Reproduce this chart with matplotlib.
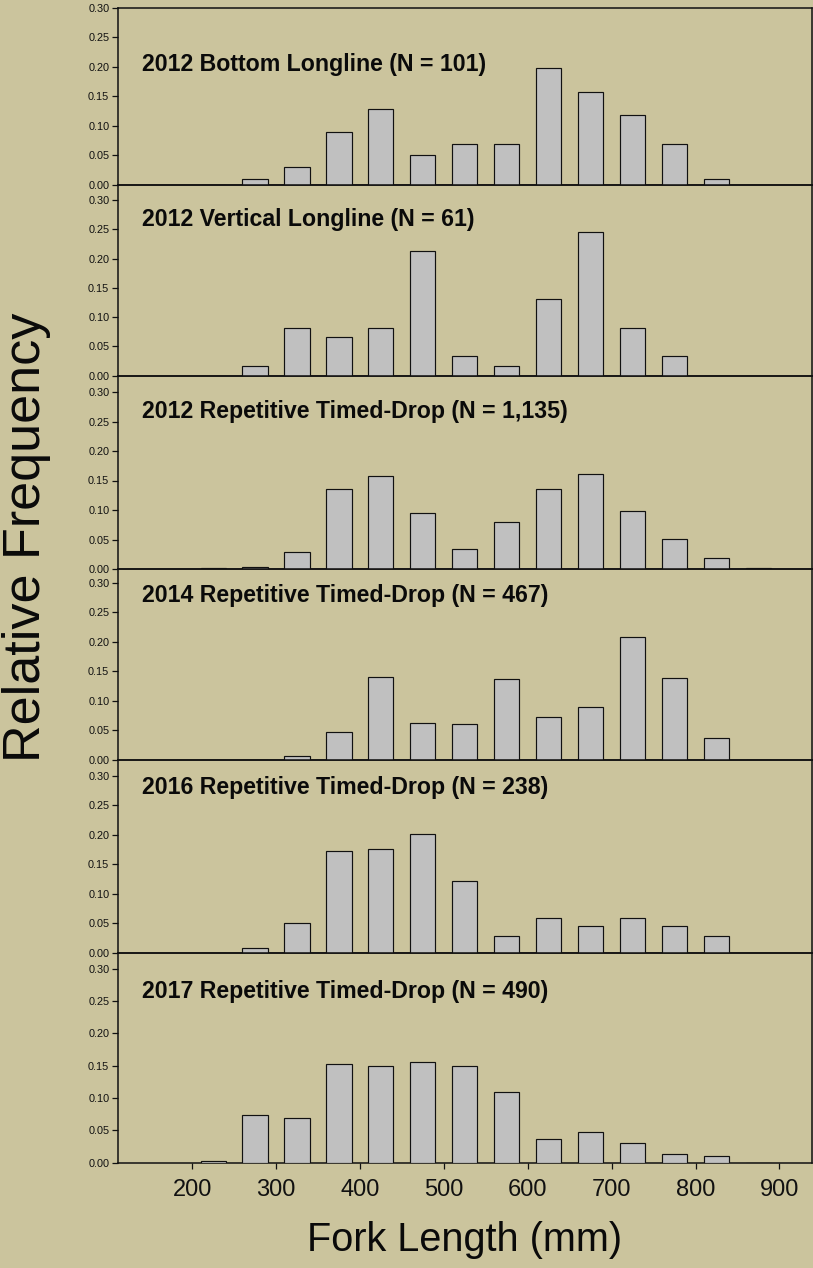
import numpy as np
import matplotlib
matplotlib.use("Agg")
import matplotlib.pyplot as plt

plt.rcParams['font.family'] = ['Liberation Sans', 'DejaVu Sans']

# Fork-length bins (mm, bin centres) and relative frequencies per survey
bin_centers = [225, 275, 325, 375, 425, 475, 525, 575, 625, 675, 725, 775, 825, 875]

titles = [
    "2012 Bottom Longline (N = 101)",
    "2012 Vertical Longline (N = 61)",
    "2012 Repetitive Timed-Drop (N = 1,135)",
    "2014 Repetitive Timed-Drop (N = 467)",
    "2016 Repetitive Timed-Drop (N = 238)",
    "2017 Repetitive Timed-Drop (N = 490)",
]

freq_2012_bll = [0.000, 0.010, 0.030, 0.089, 0.129, 0.050, 0.069, 0.069, 0.198, 0.158, 0.119, 0.069, 0.010, 0.000]
freq_2012_vll = [0.000, 0.016, 0.082, 0.066, 0.082, 0.213, 0.033, 0.016, 0.131, 0.246, 0.082, 0.033, 0.000, 0.000]
freq_2012_rtd = [0.001, 0.003, 0.029, 0.136, 0.158, 0.095, 0.034, 0.080, 0.136, 0.161, 0.098, 0.051, 0.019, 0.001]
freq_2014_rtd = [0.000, 0.000, 0.006, 0.047, 0.141, 0.062, 0.060, 0.137, 0.073, 0.090, 0.208, 0.139, 0.036, 0.000]
freq_2016_rtd = [0.000, 0.008, 0.050, 0.172, 0.176, 0.202, 0.122, 0.029, 0.059, 0.046, 0.059, 0.046, 0.029, 0.000]
freq_2017_rtd = [0.002, 0.073, 0.069, 0.153, 0.149, 0.155, 0.149, 0.110, 0.037, 0.047, 0.031, 0.014, 0.010, 0.000]

series = [freq_2012_bll, freq_2012_vll, freq_2012_rtd, freq_2014_rtd, freq_2016_rtd, freq_2017_rtd]

yticks = [0.00, 0.05, 0.10, 0.15, 0.20, 0.25, 0.30]
xticks = [200, 300, 400, 500, 600, 700, 800, 900]

W, H = 813, 1268
BG = '#CBC49D'
fig = plt.figure(figsize=(W / 100, H / 100), dpi=100, facecolor=BG)

# panel geometry in pixels: (y of 0.30 tick, y of 0.00 line, top of frame)
panels = [
    (8.0, 184.7, 8.0),
    (200.0, 375.7, 184.7),
    (392.0, 569.0, 375.7),
    (583.0, 759.7, 569.0),
    (775.7, 952.7, 759.7),
    (968.7, 1162.7, 952.7),
]
title_baselines = [70.7, 226.0, 418.0, 602.3, 794.0, 998.3]

x_left, x_right = 118.3, 811.7
xlim = (112.0, 938.5)

for i, ((y30, y0, ytop), vals, title) in enumerate(zip(panels, series, titles)):
    ax = fig.add_axes([x_left / W, 1 - y0 / H, (x_right - x_left) / W, (y0 - ytop) / H])
    ax.set_facecolor('none')
    ymax = 0.30 * (y0 - ytop) / (y0 - y30)
    ax.bar(bin_centers, vals, width=30, color='#C0C0C0', edgecolor='#111111', linewidth=0.85, zorder=3)
    ax.set_xlim(*xlim)
    ax.set_ylim(0, ymax)
    ax.set_yticks(yticks)
    ax.set_yticklabels([f"{v:.2f}" for v in yticks], fontsize=7.8, color='#111111')
    ax.tick_params(axis='y', direction='out', length=4, width=0.9, pad=2.5, colors='#111111')
    for s in ax.spines.values():
        s.set_linewidth(1.1)
        s.set_color('#111111')
    if i < len(panels) - 1:
        ax.set_xticks([])
    else:
        ax.set_xticks(xticks)
        ax.set_xticklabels([str(v) for v in xticks], fontsize=17)
        ax.tick_params(axis='x', direction='out', length=4, width=0.9, pad=8, colors='#111111')
    fig.text(142 / W, 1 - title_baselines[i] / H, title, fontsize=16.7, fontweight='bold',
             ha='left', va='baseline', color='#0a0a0a')

fig.text(465 / W, 1 - 1240 / H, "Fork Length (mm)", fontsize=28.5,
         ha='center', va='center', color='#0a0a0a')
fig.text(27 / W, 1 - 537 / H, "Relative Frequency", fontsize=37.5, rotation=90,
         ha='center', va='center', color='#0a0a0a')

fig.savefig('out.png', dpi=100, facecolor=BG)
